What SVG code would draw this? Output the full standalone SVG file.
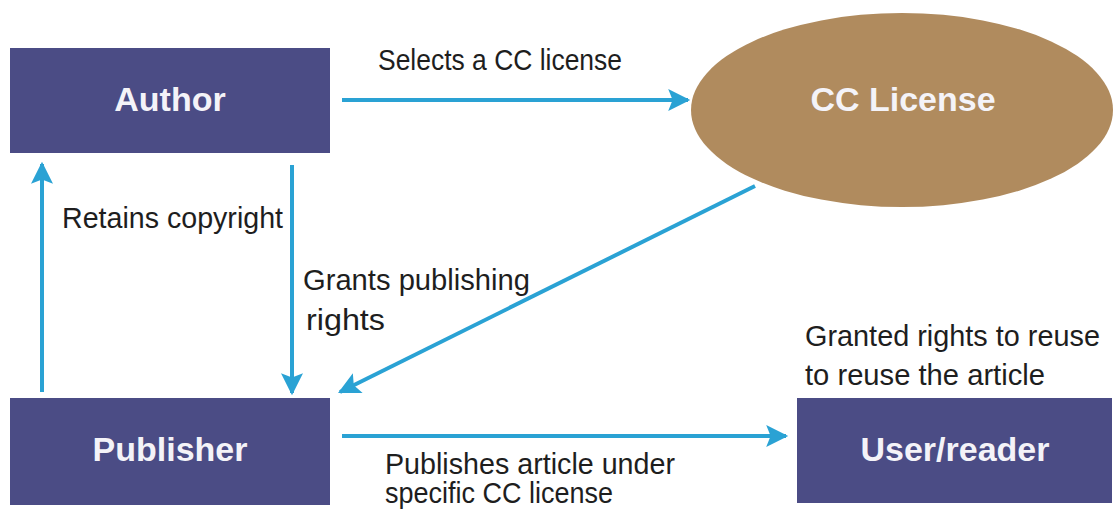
<svg xmlns="http://www.w3.org/2000/svg" width="1115" height="511" viewBox="0 0 1115 511">
<style>
.box{fill:#4b4c85}
.nl{font-family:"Liberation Sans",Arial,sans-serif;font-weight:bold;font-size:34px;fill:#f4f3f8;text-anchor:middle}
.lbl{font-family:"Liberation Sans",Arial,sans-serif;font-size:29px;fill:#1e1e1e}
.conn{stroke:#2aa2d4;stroke-width:4;fill:none;marker-end:url(#ah)}
</style>
<defs>
<marker id="ah" viewBox="0 0 10 10" refX="9" refY="5" markerWidth="6.5" markerHeight="5.5" orient="auto" markerUnits="strokeWidth">
<path d="M0,0 L10,5 L0,10 L2,5 Z" fill="#2aa2d4"/>
</marker>
</defs>
<rect width="1115" height="511" fill="#ffffff"/>
<g id="connectors">
<line class="conn" x1="342" y1="100" x2="688" y2="100"/>
<line class="conn" x1="42" y1="392" x2="42" y2="164"/>
<line class="conn" x1="292" y1="165" x2="292" y2="393"/>
<line class="conn" x1="755" y1="186" x2="340" y2="392"/>
<line class="conn" x1="342" y1="436" x2="786" y2="436"/>
<text class="lbl" x="378" y="70" textLength="244" lengthAdjust="spacingAndGlyphs">Selects a CC license</text>
<text class="lbl" x="62" y="228" textLength="221" lengthAdjust="spacingAndGlyphs">Retains copyright</text>
<text class="lbl" x="303" y="290" textLength="227" lengthAdjust="spacingAndGlyphs">Grants publishing</text>
<text class="lbl" x="306" y="330" textLength="79" lengthAdjust="spacingAndGlyphs">rights</text>
<text class="lbl" x="805" y="346" textLength="295" lengthAdjust="spacingAndGlyphs">Granted rights to reuse</text>
<text class="lbl" x="805" y="385" textLength="240" lengthAdjust="spacingAndGlyphs">to reuse the article</text>
<text class="lbl" x="385" y="474" textLength="290" lengthAdjust="spacingAndGlyphs">Publishes article under</text>
<text class="lbl" x="385" y="503" textLength="228" lengthAdjust="spacingAndGlyphs">specific CC license</text>
</g>
<g id="author">
<rect class="box" x="10" y="48" width="320" height="105"/>
<text class="nl" x="170" y="111">Author</text>
</g>
<g id="cc-license">
<ellipse cx="902" cy="110" rx="211" ry="97" fill="#b08b5e"/>
<text class="nl" x="903" y="111">CC License</text>
</g>
<g id="publisher">
<rect class="box" x="10" y="398" width="320" height="107"/>
<text class="nl" x="170" y="461">Publisher</text>
</g>
<g id="user-reader">
<rect class="box" x="797" y="398" width="315" height="105"/>
<text class="nl" x="955" y="461">User/reader</text>
</g>
</svg>
